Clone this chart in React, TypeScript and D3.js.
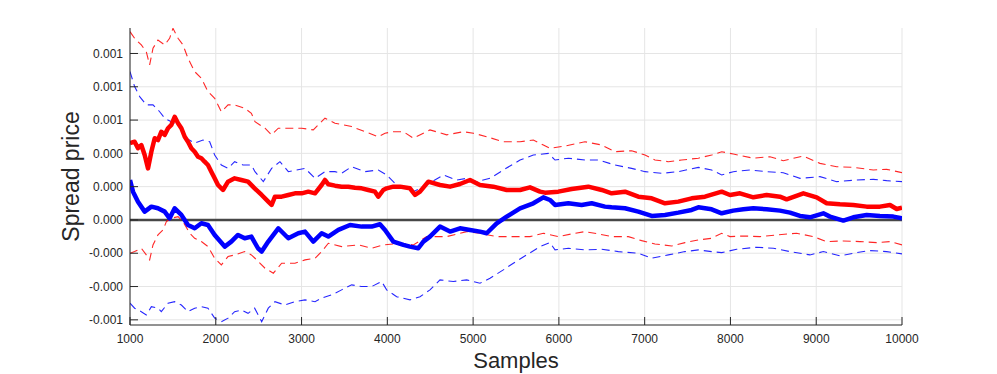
import React from "react";
import * as d3 from "d3";

// samples / spread values
const redMeanX = [1000, 1054, 1093, 1132, 1171, 1210, 1249, 1288, 1326, 1365, 1404, 1443, 1482, 1521, 1560, 1599, 1638, 1676, 1715, 1754, 1793, 1832, 1870, 1909, 1948, 1987, 2026, 2084, 2143, 2220, 2298, 2376, 2453, 2535, 2612, 2651, 2690, 2768, 2846, 2923, 3001, 3079, 3157, 3234, 3273, 3312, 3390, 3467, 3545, 3623, 3701, 3778, 3856, 3895, 3953, 3992, 4070, 4148, 4264, 4323, 4381, 4478, 4614, 4731, 4847, 4964, 5080, 5236, 5391, 5547, 5663, 5780, 5838, 5993, 6149, 6343, 6499, 6615, 6771, 6926, 7082, 7237, 7392, 7548, 7703, 7898, 7995, 8111, 8267, 8422, 8577, 8655, 8850, 9005, 9122, 9277, 9432, 9588, 9743, 9860, 9938, 10000];
const redMeanY = [4.62, 4.7, 4.31, 4.5, 3.9, 3.1, 4.1, 4.91, 4.8, 5.3, 5.11, 5.51, 5.71, 6.2, 5.81, 5.51, 5.0, 4.7, 4.31, 4.1, 3.8, 3.71, 3.5, 3.3, 2.9, 2.5, 2.1, 1.8, 2.3, 2.5, 2.4, 2.3, 1.9, 1.5, 1.1, 0.9, 1.4, 1.4, 1.5, 1.6, 1.6, 1.7, 1.6, 2.1, 2.4, 2.14, 2.06, 2.0, 2.0, 1.94, 1.9, 1.8, 1.7, 1.4, 1.8, 1.9, 2.0, 2.0, 1.9, 1.5, 1.7, 2.3, 2.1, 2.0, 2.16, 2.4, 2.1, 2.0, 1.8, 1.8, 1.96, 1.7, 1.64, 1.7, 1.86, 2.0, 1.8, 1.6, 1.7, 1.4, 1.3, 1.0, 1.1, 1.3, 1.4, 1.7, 1.5, 1.6, 1.36, 1.5, 1.4, 1.24, 1.6, 1.36, 1.0, 0.94, 0.9, 0.8, 0.8, 0.9, 0.66, 0.74];

const blueMeanX = [1000, 1035, 1093, 1171, 1249, 1326, 1404, 1462, 1521, 1599, 1676, 1754, 1832, 1909, 1987, 2104, 2181, 2259, 2337, 2415, 2492, 2535, 2612, 2729, 2846, 2962, 3040, 3137, 3234, 3312, 3429, 3565, 3701, 3817, 3914, 3973, 4070, 4187, 4264, 4361, 4420, 4497, 4614, 4731, 4847, 4964, 5080, 5158, 5275, 5391, 5547, 5702, 5819, 5896, 5955, 6110, 6265, 6382, 6537, 6615, 6771, 6926, 7082, 7237, 7392, 7548, 7626, 7781, 7898, 8033, 8150, 8267, 8422, 8577, 8694, 8811, 8927, 9083, 9160, 9316, 9432, 9588, 9743, 9899, 10000];
const blueMeanY = [2.4, 1.7, 1.1, 0.5, 0.8, 0.7, 0.5, 0.1, 0.7, 0.3, -0.3, -0.5, -0.2, -0.3, -0.9, -1.6, -1.3, -0.9, -1.1, -1.0, -1.7, -1.9, -1.3, -0.5, -1.1, -0.8, -0.7, -1.3, -0.8, -1.0, -0.6, -0.3, -0.4, -0.4, -0.26, -0.6, -1.3, -1.5, -1.6, -1.7, -1.3, -1.0, -0.4, -0.7, -0.5, -0.6, -0.7, -0.8, -0.2, 0.2, 0.7, 1.0, 1.36, 1.2, 0.9, 1.0, 0.9, 1.0, 0.8, 0.76, 0.7, 0.5, 0.24, 0.3, 0.44, 0.6, 0.76, 0.64, 0.4, 0.56, 0.64, 0.7, 0.64, 0.56, 0.44, 0.24, 0.16, 0.4, 0.2, -0.04, 0.16, 0.3, 0.24, 0.2, 0.1];

const redUpperX = [1000, 1054, 1132, 1190, 1229, 1268, 1326, 1404, 1462, 1501, 1560, 1618, 1676, 1754, 1832, 1909, 1987, 2065, 2143, 2220, 2337, 2415, 2457, 2574, 2651, 2729, 2846, 3001, 3137, 3273, 3390, 3584, 3739, 3895, 3973, 4070, 4187, 4303, 4497, 4692, 4886, 5003, 5158, 5352, 5547, 5702, 5819, 5896, 6071, 6304, 6499, 6654, 6848, 7004, 7120, 7276, 7431, 7626, 7781, 7898, 8033, 8267, 8461, 8616, 8850, 9044, 9238, 9432, 9666, 9821, 10000];
const redUpperY = [11.31, 10.91, 10.51, 10.11, 9.31, 10.31, 10.81, 10.51, 10.91, 11.51, 10.91, 10.51, 9.71, 8.91, 8.51, 7.71, 7.31, 6.5, 6.91, 6.91, 6.71, 6.41, 5.9, 5.51, 5.11, 5.51, 5.51, 5.51, 5.41, 6.11, 5.81, 5.61, 5.3, 5.0, 5.21, 5.3, 5.3, 4.91, 5.41, 5.11, 5.3, 5.21, 5.0, 4.7, 4.7, 4.8, 4.5, 4.3, 4.44, 4.7, 4.5, 4.1, 4.16, 3.9, 3.6, 3.5, 3.6, 3.71, 3.9, 4.1, 3.96, 3.71, 3.8, 3.56, 3.84, 3.4, 3.2, 3.16, 3.0, 3.04, 2.84];

const redLowerX = [1000, 1054, 1132, 1190, 1229, 1268, 1326, 1385, 1424, 1482, 1560, 1618, 1696, 1754, 1832, 1909, 1987, 2065, 2143, 2220, 2337, 2415, 2457, 2574, 2671, 2768, 2923, 3040, 3157, 3234, 3312, 3467, 3662, 3817, 3953, 4148, 4303, 4459, 4692, 4925, 5080, 5275, 5469, 5663, 5819, 5993, 6149, 6304, 6460, 6615, 6810, 6965, 7120, 7315, 7470, 7626, 7781, 7898, 7995, 8150, 8344, 8539, 8772, 8966, 9122, 9316, 9510, 9704, 9860, 10000];
const redLowerY = [-2.0, -1.9, -1.7, -2.1, -2.4, -1.5, -0.9, -0.6, -0.1, 0.1, 0.2, -0.1, -0.8, -1.1, -1.3, -1.6, -2.3, -2.7, -2.2, -2.1, -1.9, -2.1, -2.3, -2.9, -3.2, -2.6, -2.6, -2.4, -2.3, -1.9, -1.4, -1.6, -1.5, -1.7, -1.5, -1.4, -1.5, -1.0, -1.0, -0.7, -0.8, -1.0, -1.0, -1.0, -0.8, -1.0, -0.84, -0.7, -0.84, -1.0, -1.0, -1.24, -1.44, -1.56, -1.36, -1.2, -1.1, -0.8, -1.0, -0.96, -1.0, -0.9, -0.8, -1.0, -1.3, -1.26, -1.3, -1.36, -1.3, -1.5];

const blueUpperX = [1000, 1054, 1113, 1190, 1268, 1346, 1404, 1482, 1560, 1657, 1754, 1851, 1929, 1987, 2065, 2143, 2220, 2317, 2415, 2457, 2554, 2651, 2748, 2846, 3040, 3157, 3273, 3390, 3467, 3584, 3739, 3895, 3992, 4109, 4303, 4420, 4653, 4808, 4925, 5042, 5197, 5352, 5547, 5702, 5877, 5955, 6110, 6304, 6460, 6654, 6848, 7004, 7198, 7392, 7626, 7781, 7898, 8033, 8228, 8422, 8616, 8811, 9044, 9238, 9471, 9666, 9821, 10000];
const blueUpperY = [8.91, 8.01, 7.41, 6.91, 6.91, 6.5, 6.11, 5.9, 5.71, 4.91, 4.61, 4.8, 4.7, 3.9, 3.3, 3.1, 3.5, 3.3, 3.3, 2.9, 2.3, 3.1, 3.5, 2.9, 3.1, 2.5, 2.9, 2.9, 2.8, 3.2, 2.9, 3.0, 2.7, 2.1, 1.7, 2.0, 2.7, 2.4, 2.5, 2.3, 2.5, 3.0, 3.6, 3.9, 4.0, 3.6, 3.71, 3.6, 3.6, 3.3, 3.1, 2.9, 2.8, 2.9, 3.16, 3.0, 2.7, 2.9, 3.0, 2.9, 2.84, 2.5, 2.6, 2.3, 2.4, 2.44, 2.36, 2.3];

const blueLowerX = [1000, 1054, 1132, 1190, 1249, 1326, 1365, 1443, 1521, 1599, 1676, 1754, 1832, 1909, 1987, 2065, 2143, 2220, 2298, 2376, 2453, 2535, 2612, 2690, 2807, 2923, 3040, 3157, 3234, 3351, 3467, 3584, 3701, 3817, 3934, 3992, 4109, 4264, 4381, 4497, 4614, 4769, 4925, 5080, 5197, 5352, 5469, 5624, 5780, 5896, 5955, 6110, 6304, 6499, 6693, 6926, 7082, 7276, 7470, 7626, 7781, 7898, 8072, 8305, 8500, 8694, 8927, 9083, 9277, 9471, 9627, 9821, 10000];
const blueLowerY = [-5.0, -5.3, -5.51, -5.71, -5.21, -5.3, -5.51, -5.0, -4.91, -5.11, -5.51, -5.3, -5.21, -5.3, -5.9, -6.11, -5.9, -5.51, -5.41, -5.61, -5.3, -6.11, -5.3, -4.91, -5.11, -4.91, -4.8, -4.91, -4.7, -4.5, -4.2, -3.9, -4.0, -4.0, -3.7, -4.2, -4.61, -4.8, -4.61, -4.2, -3.6, -3.7, -3.6, -3.8, -3.5, -3.0, -2.6, -2.1, -1.6, -1.36, -1.8, -1.7, -1.8, -1.76, -1.9, -2.0, -2.3, -2.1, -1.9, -1.8, -1.9, -1.96, -1.76, -1.64, -1.7, -1.9, -2.1, -1.9, -2.16, -1.96, -1.84, -1.9, -2.04];

// values above are in units of 1e-4
const UNIT = 1e-4;

const xTicks = [1000, 2000, 3000, 4000, 5000, 6000, 7000, 8000, 9000, 10000];
const yTicks = [-0.0006, -0.0004, -0.0002, 0, 0.0002, 0.0004, 0.0006, 0.0008, 0.001];

const W = 997;
const H = 374;
const margin = { top: 28, right: 95, bottom: 49, left: 130 };
const FONT = "'Liberation Sans', Arial, Helvetica, sans-serif";
const AXIS = "#262626";

type Pt = [number, number];
const zip = (xs: number[], ys: number[]): Pt[] => xs.map((x, i) => [x, ys[i] * UNIT]);

export default function App() {
  const innerW = W - margin.left - margin.right;
  const innerH = H - margin.top - margin.bottom;

  const x = d3.scaleLinear().domain([1000, 10000]).range([0, innerW]);
  const y = d3.scaleLinear().domain([-0.000631, 0.001153]).range([innerH, 0]);

  const line = d3
    .line<Pt>()
    .x((d) => x(d[0]))
    .y((d) => y(d[1]));

  const dashed = [
    { data: zip(redUpperX, redUpperY), color: "#ff0000" },
    { data: zip(redLowerX, redLowerY), color: "#ff0000" },
    { data: zip(blueUpperX, blueUpperY), color: "#0000ff" },
    { data: zip(blueLowerX, blueLowerY), color: "#0000ff" },
  ];

  return (
    <svg
      width={W}
      height={H}
      style={{ position: "absolute", left: 0, top: 0, background: "#fff" }}
      fontFamily={FONT}
    >
      <defs>
        <clipPath id="plot">
          <rect x={0} y={0} width={innerW} height={innerH} />
        </clipPath>
      </defs>
      <g transform={`translate(${margin.left},${margin.top})`}>
        {/* grid */}
        {xTicks.map((t) => (
          <line key={"gx" + t} x1={x(t)} x2={x(t)} y1={0} y2={innerH} stroke="#e5e5e5" strokeWidth={1} />
        ))}
        {yTicks.map((t) => (
          <line key={"gy" + t} x1={0} x2={innerW} y1={y(t)} y2={y(t)} stroke="#e5e5e5" strokeWidth={1} />
        ))}

        {/* zero reference */}
        <line x1={x(1000)} x2={x(10000)} y1={y(0)} y2={y(0)} stroke="#474747" strokeWidth={2.5} />

        <g clipPath="url(#plot)" fill="none">
          {dashed.map((s, i) => (
            <path
              key={i}
              d={line(s.data) || ""}
              stroke={s.color}
              strokeOpacity={0.85}
              strokeWidth={1.1}
              strokeDasharray="8,5"
            />
          ))}
          <path d={line(zip(redMeanX, redMeanY)) || ""} stroke="#ff0000" strokeWidth={4.5} strokeLinejoin="round" />
          <path d={line(zip(blueMeanX, blueMeanY)) || ""} stroke="#0000ff" strokeWidth={4.5} strokeLinejoin="round" />
        </g>

        {/* axes */}
        <line x1={0} x2={0} y1={0} y2={innerH} stroke={AXIS} strokeWidth={1} />
        <line x1={0} x2={innerW} y1={innerH} y2={innerH} stroke={AXIS} strokeWidth={1} />
        {xTicks.map((t) => (
          <g key={"xt" + t} transform={`translate(${x(t)},${innerH})`}>
            <line y1={0} y2={-8} stroke={AXIS} />
            <text y={18} textAnchor="middle" fontSize={12} fill={AXIS}>
              {t}
            </text>
          </g>
        ))}
        {yTicks.map((t) => (
          <g key={"yt" + t} transform={`translate(0,${y(t)})`}>
            <line x1={0} x2={8} stroke={AXIS} />
            <text x={-7} dy="0.35em" textAnchor="end" fontSize={12} fill={AXIS}>
              {t.toFixed(3)}
            </text>
          </g>
        ))}

        <text x={innerW / 2} y={innerH + 43} textAnchor="middle" fontSize={22} fill={AXIS}>
          Samples
        </text>
        <text
          transform={`translate(${-51},${innerH / 2}) rotate(-90)`}
          textAnchor="middle"
          fontSize={23}
          fill={AXIS}
        >
          Spread price
        </text>
      </g>
    </svg>
  );
}
